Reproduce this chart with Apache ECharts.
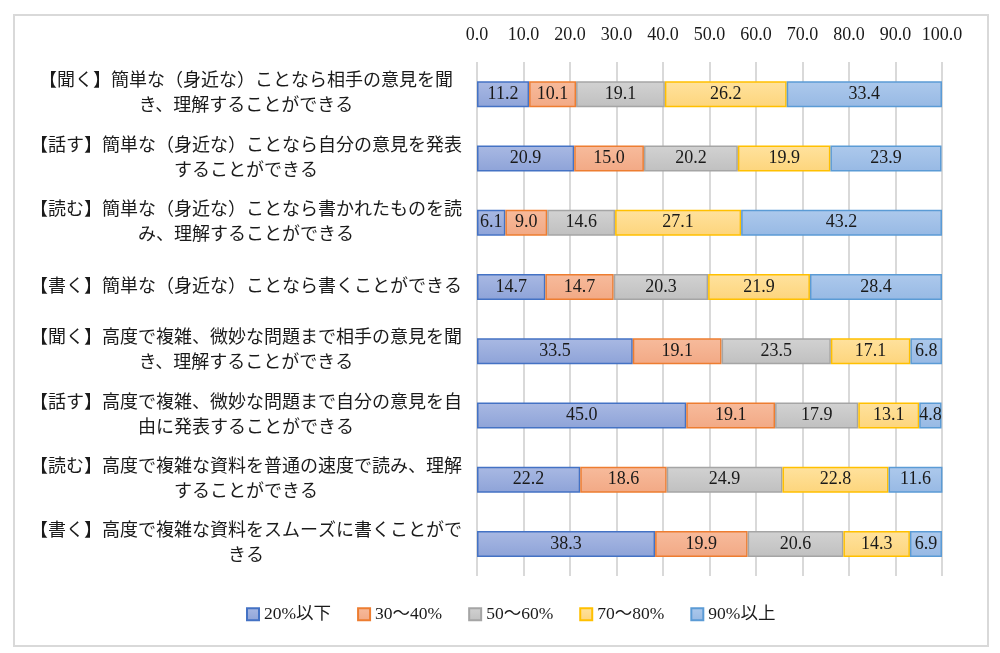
<!DOCTYPE html>
<html><head><meta charset="utf-8">
<script src="https://cdn.jsdelivr.net/npm/echarts@6/dist/echarts.min.js"></script>
<style>html,body{margin:0;padding:0;background:#fff}#c{width:1000px;height:653px}</style>
</head><body><div id="c"></div>
<script>
const categories = [
  '【聞く】簡単な（身近な）ことなら相手の意見を聞\nき、理解することができる',
  '【話す】簡単な（身近な）ことなら自分の意見を発表\nすることができる',
  '【読む】簡単な（身近な）ことなら書かれたものを読\nみ、理解することができる',
  '【書く】簡単な（身近な）ことなら書くことができる',
  '【聞く】高度で複雑、微妙な問題まで相手の意見を聞\nき、理解することができる',
  '【話す】高度で複雑、微妙な問題まで自分の意見を自\n由に発表することができる',
  '【読む】高度で複雑な資料を普通の速度で読み、理解\nすることができる',
  '【書く】高度で複雑な資料をスムーズに書くことがで\nきる'
];
const seriesNames = ['20%以下', '30～40%', '50～60%', '70～80%', '90%以上'];
const s20 = [11.2, 20.9, 6.1, 14.7, 33.5, 45.0, 22.2, 38.3];
const s30 = [10.1, 15.0, 9.0, 14.7, 19.1, 19.1, 18.6, 19.9];
const s50 = [19.1, 20.2, 14.6, 20.3, 23.5, 17.9, 24.9, 20.6];
const s70 = [26.2, 19.9, 27.1, 21.9, 17.1, 13.1, 22.8, 14.3];
const s90 = [33.4, 23.9, 43.2, 28.4, 6.8, 4.8, 11.6, 6.9];
const seriesData = [s20, s30, s50, s70, s90];

const fills = [
  ['#a9b9e3', '#8ea3d8'],
  ['#f7bb9c', '#f2a985'],
  ['#d2d2d2', '#c0c0c0'],
  ['#ffe29e', '#fdd57c'],
  ['#adc9ec', '#97b9e4']
];
const borders = ['#4472c4', '#ed7d31', '#a5a5a5', '#ffc000', '#5b9bd5'];
const FONT = "'Liberation Serif', 'Noto Sans CJK JP', serif";

const chart = echarts.init(document.getElementById('c'));
chart.setOption({
  animation: false,
  backgroundColor: '#fff',
  graphic: [{
    type: 'rect', shape: { x: 14, y: 15, width: 974, height: 631 },
    style: { fill: 'none', stroke: '#d9d9d9', lineWidth: 2 }, silent: true
  }],
  grid: { left: 477, right: 58, top: 62, bottom: 77 },
  legend: {
    bottom: 25, left: 241,
    itemWidth: 12, itemHeight: 12, itemGap: 26,
    textStyle: { fontFamily: FONT, fontSize: 17.5, color: '#1a1a1a' },
    data: seriesNames.map((n, i) => ({ name: n, icon: 'rect' }))
  },
  xAxis: {
    type: 'value', position: 'top', min: 0, max: 100, interval: 10,
    axisLine: { show: false }, axisTick: { show: false },
    splitLine: { show: true, lineStyle: { color: '#d9d9d9', width: 2 } },
    axisLabel: {
      fontFamily: FONT, fontSize: 18, color: '#1a1a1a', margin: 18,
      formatter: v => v.toFixed(1)
    }
  },
  yAxis: {
    type: 'category', inverse: true, data: categories,
    axisLine: { show: false }, axisTick: { show: false },
    axisLabel: {
      fontFamily: FONT, fontSize: 18, color: '#1a1a1a', align: 'center',
      margin: 231, lineHeight: 25
    }
  },
  series: seriesData.map((d, i) => ({
    name: seriesNames[i], type: 'bar', stack: 'total', barWidth: 26,
    data: d,
    itemStyle: {
      color: new echarts.graphic.LinearGradient(0, 0, 0, 1, [
        { offset: 0, color: fills[i][0] }, { offset: 1, color: fills[i][1] }
      ]),
      borderColor: borders[i], borderWidth: 1.5
    },
    label: {
      show: true, position: 'inside', fontFamily: FONT, fontSize: 18, color: '#1a1a1a',
      formatter: p => p.value.toFixed(1)
    }
  }))
});
</script></body></html>
